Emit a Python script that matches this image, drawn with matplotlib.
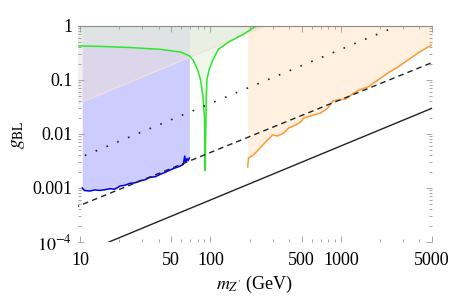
import numpy as np
import matplotlib
matplotlib.use("Agg")
import matplotlib.pyplot as plt
from matplotlib.ticker import LogLocator, FixedLocator, FixedFormatter, NullFormatter

plt.rcParams['font.family'] = ['Liberation Serif', 'DejaVu Serif']
plt.rcParams['mathtext.fontset'] = 'stix'

# --- dados ---
# curva azul (m < 70 GeV)
m_azul = [10.4, 10.8, 11.9, 13.0, 14.2, 15.5, 17.0, 18.5, 20.3, 22.0, 24.2, 26.5,
          28.9, 31.5, 34.5, 37.8, 41.2, 45.0, 49.2, 53.5, 58.7, 62.0, 63.5, 64.5,
          66.0, 67.5, 68.9]
g_azul = [1.0e-3, 9.0e-4, 8.8e-4, 9.2e-4, 9.0e-4, 9.3e-4, 9.7e-4, 9.5e-4, 1.09e-3,
          1.12e-3, 1.22e-3, 1.25e-3, 1.36e-3, 1.42e-3, 1.58e-3, 1.62e-3, 1.79e-3,
          1.95e-3, 2.16e-3, 2.35e-3, 2.55e-3, 2.75e-3, 3.9e-3, 3.0e-3, 3.5e-3,
          3.2e-3, 3.6e-3]

# curva laranja (m > 190 GeV)
m_laranja = [193, 196, 214, 243, 274, 300, 328, 364, 398, 451, 492, 519, 701, 794,
             868, 948, 1092, 1236, 1374, 1614, 1926, 2300, 2744, 3275, 3910, 4667, 5000]
g_laranja = [2.45e-3, 3.6e-3, 4.1e-3, 5.7e-3, 7.7e-3, 9.6e-3, 9.2e-3, 0.0104, 0.0129,
             0.0147, 0.0167, 0.0198, 0.0245, 0.0303, 0.0408, 0.0426, 0.0445, 0.0551,
             0.0653, 0.0742, 0.100, 0.135, 0.174, 0.235, 0.316, 0.41, 0.445]

# curva verde (polo do Z)
m_verde = [9.0, 14, 24, 41, 59, 69, 74, 80, 84, 87.5, 90, 90.8, 91.2,
           91.6, 92.4, 93, 94, 98, 104, 115, 137, 180, 200, 225]
g_verde = [0.43, 0.42, 0.40, 0.37, 0.33, 0.28, 0.23, 0.15, 0.10, 0.05, 0.02, 0.006,
           0.0021, 0.006, 0.02, 0.05, 0.10, 0.16, 0.23, 0.37, 0.50, 0.71, 0.84, 1.0]

# região bege (acima da reta)
m_bege = [9.0, 263]
g_bege = [0.034, 1.0]

# retas
m_reta = [9.0, 5000]
g_solida = [5.4e-5, 0.030]
g_tracejada = [4.3e-4, 0.21]
g_pontilhada = [3.3e-3, 1.85]

xticks = [10, 50, 100, 500, 1000, 5000]
xtick_labels = ['10', '50', '100', '500', '1000', '5000']
yticks = [1e-4, 1e-3, 1e-2, 1e-1, 1]
ytick_labels = [r'$10^{-4}$', '0.001', '0.01', '0.1', '1']

# --- figura ---
fig = plt.figure(figsize=(4.54, 3.0), dpi=100)
ax = fig.add_axes([78/454, 1 - 242/300, (432-78)/454, (242-26)/300])
ax.set_xscale('log')
ax.set_yscale('log')

ax.fill_between(m_azul, g_azul, 1, color='#0000ff', alpha=0.2, lw=0)
ax.fill_between(m_bege, g_bege, 1, color='#ebe1d6', alpha=0.5, lw=0)
ax.plot(m_bege, g_bege, color='#f2e2dc', lw=0.8)
ax.fill_between(m_verde, g_verde, 1, color='#e3efde', alpha=0.55, lw=0)
ax.fill_between(m_laranja, g_laranja, 1, color='#ff8800', alpha=0.12, lw=0)

ax.plot(m_azul, g_azul, color='#0000ee', lw=1.1)
ax.plot(m_laranja, g_laranja, color='#ff9933', lw=1.1)
ax.plot(m_verde, g_verde, color='#2ae82a', lw=1.1)

ax.plot(m_reta, g_solida, color='#222222', lw=1.0)
ax.plot(m_reta, g_tracejada, color='#222222', lw=1.0, ls=(0, (4, 3)))
ax.plot(m_reta, g_pontilhada, color='#222222', lw=1.2, ls=(0, (1, 6)))

ax.set_xlim(9.65, 5000)
ax.set_ylim(1e-4, 1)

for s in ['left', 'right', 'bottom']:
    ax.spines[s].set_visible(False)
ax.spines['top'].set_color('#8a8a8a')
ax.spines['top'].set_linewidth(0.8)

ax.xaxis.set_major_locator(FixedLocator(xticks))
ax.xaxis.set_major_formatter(FixedFormatter(xtick_labels))
ax.xaxis.set_minor_locator(LogLocator(base=10, subs=np.arange(2, 10)))
ax.xaxis.set_minor_formatter(NullFormatter())
ax.yaxis.set_major_locator(FixedLocator(yticks))
ax.yaxis.set_major_formatter(FixedFormatter(ytick_labels))
ax.yaxis.set_minor_locator(LogLocator(base=10, subs=np.arange(2, 10)))
ax.yaxis.set_minor_formatter(NullFormatter())

ax.tick_params(which='both', direction='in', top=True, right=True, color='#999999',
               labelsize=13, width=0.6)
ax.tick_params(which='major', length=4)
ax.tick_params(which='minor', length=2)
ax.tick_params(axis='x', pad=7)
ax.tick_params(axis='y', pad=4)

ax.set_xlabel(r"$m_{Z'}$ (GeV)", fontsize=13, labelpad=4)
ax.set_ylabel(r"$g_{\rm BL}$", fontsize=14, labelpad=4)

fig.savefig('out.png', dpi=100)
